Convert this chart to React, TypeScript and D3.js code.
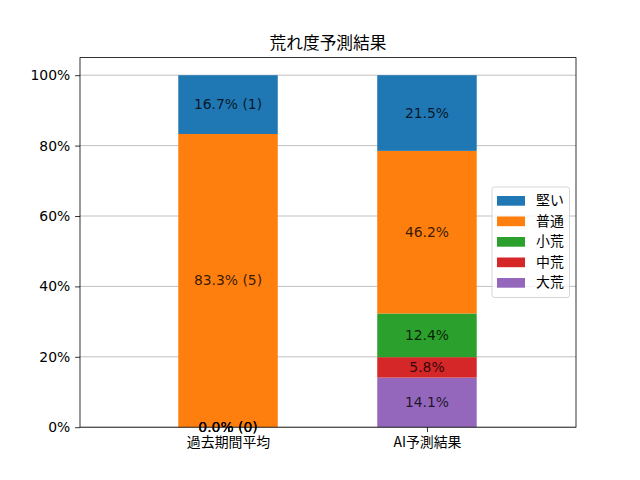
import { useEffect, useRef } from "react";
import * as d3 from "d3";

// categories on the x axis
const groups = ["過去期間平均", "AI予測結果"];
// stack order from the bottom up
const levels = ["大荒", "中荒", "小荒", "普通", "堅い"];
const colors = ["#9467bd", "#d62728", "#2ca02c", "#ff7f0e", "#1f77b4"];
// percentage per level, same order as levels
const pastPct = [0.0, 0.0, 0.0, 83.3, 16.7];
const pastCount = [0, 0, 0, 5, 1];
const aiPct = [14.1, 5.8, 12.4, 46.2, 21.5];
const yTicks = [0, 20, 40, 60, 80, 100];

const W = 640;
const H = 480;
const FONT = "'DejaVu Sans', 'Noto Sans CJK JP', sans-serif";
const JP_FONT = "'Noto Sans CJK JP', 'DejaVu Sans', sans-serif";

export default function App() {
  const svgRef = useRef<SVGSVGElement>(null);

  useEffect(() => {
    if (!svgRef.current) return;
    const svg = d3.select(svgRef.current);
    svg.selectAll("*").remove();

    const margin = { top: 57.6, right: 64, bottom: 52.8, left: 80 };
    const innerW = W - margin.left - margin.right;
    const innerH = H - margin.top - margin.bottom;

    const g = svg.append("g").attr("transform", `translate(${margin.left},${margin.top})`);

    const x = d3.scaleLinear().domain([-0.744, 1.749]).range([0, innerW]);
    const y = d3.scaleLinear().domain([0, 105]).range([innerH, 0]);
    const barW = 0.5;

    // grid below the bars
    g.append("g")
      .selectAll("line")
      .data(yTicks)
      .join("line")
      .attr("x1", 0)
      .attr("x2", innerW)
      .attr("y1", (d) => y(d))
      .attr("y2", (d) => y(d))
      .attr("stroke", "#b0b0b0")
      .attr("stroke-width", 0.8);

    const series = [
      { name: groups[0], pct: pastPct, count: pastCount as number[] | null },
      { name: groups[1], pct: aiPct, count: null },
    ];

    series.forEach((s, i) => {
      let base = 0;
      const segs = s.pct.map((v, k) => {
        const seg = { v, y0: base, y1: base + v, k };
        base += v;
        return seg;
      });
      g.append("g")
        .selectAll("rect")
        .data(segs)
        .join("rect")
        .attr("x", x(i - barW / 2))
        .attr("width", x(i + barW / 2) - x(i - barW / 2))
        .attr("y", (d) => y(d.y1))
        .attr("height", (d) => y(d.y0) - y(d.y1))
        .attr("fill", (d) => colors[d.k]);

      g.append("g")
        .selectAll("text")
        .data(segs)
        .join("text")
        .attr("x", x(i))
        .attr("y", (d) => y((d.y0 + d.y1) / 2))
        .attr("dy", "0.35em")
        .attr("text-anchor", "middle")
        .attr("font-family", FONT)
        .attr("font-size", "13.9px")
        .attr("fill", "#000")
        .attr("fill-opacity", 0.8)
        .text((d) =>
          s.count ? `${d.v.toFixed(1)}% (${s.count[d.k]})` : `${d.v.toFixed(1)}%`
        );
    });

    // spines
    g.append("rect")
      .attr("x", 0)
      .attr("y", 0)
      .attr("width", innerW)
      .attr("height", innerH)
      .attr("fill", "none")
      .attr("stroke", "#000")
      .attr("stroke-width", 0.8);

    // y axis
    const yAxis = g.append("g").call(
      d3
        .axisLeft(y)
        .tickValues(yTicks)
        .tickSize(4.9)
        .tickPadding(4.9)
        .tickFormat((d) => `${d}%`)
    );
    yAxis.select(".domain").remove();
    yAxis.selectAll(".tick line").attr("stroke", "#000").attr("stroke-width", 0.8);
    yAxis
      .selectAll("text")
      .attr("font-family", FONT)
      .attr("font-size", "13.9px")
      .attr("fill", "#000");

    // x axis
    const xAxis = g
      .append("g")
      .attr("transform", `translate(0,${innerH})`)
      .call(
        d3
          .axisBottom(x)
          .tickValues([0, 1])
          .tickSize(4.9)
          .tickPadding(4.9)
          .tickFormat((d) => groups[d as number])
      );
    xAxis.select(".domain").remove();
    xAxis.selectAll(".tick line").attr("stroke", "#000").attr("stroke-width", 0.8);
    xAxis
      .selectAll("text")
      .attr("font-family", JP_FONT)
      .attr("font-size", "13.9px")
      .attr("fill", "#000");

    // title
    g.append("text")
      .attr("x", innerW / 2)
      .attr("y", -8.5)
      .attr("text-anchor", "middle")
      .attr("font-family", JP_FONT)
      .attr("font-size", "16.7px")
      .attr("fill", "#000")
      .text("荒れ度予測結果");

    // legend, top entry is the top of the stack
    const legendItems = levels.map((name, k) => ({ name, color: colors[k] })).reverse();
    const lg = g.append("g").attr("transform", `translate(${492 - margin.left},${187 - margin.top})`);
    lg.append("rect")
      .attr("x", 0)
      .attr("y", 0)
      .attr("width", 77.5)
      .attr("height", 110.5)
      .attr("rx", 2.5)
      .attr("fill", "#fff")
      .attr("fill-opacity", 0.8)
      .attr("stroke", "#cccccc")
      .attr("stroke-width", 0.8);
    const rows = lg
      .selectAll("g.row")
      .data(legendItems)
      .join("g")
      .attr("class", "row")
      .attr("transform", (_d, k) => `translate(0,${13.5 + k * 20.5})`);
    rows
      .append("rect")
      .attr("x", 5)
      .attr("y", -4.5)
      .attr("width", 28)
      .attr("height", 9.7)
      .attr("fill", (d) => d.color);
    rows
      .append("text")
      .attr("x", 44)
      .attr("y", 0)
      .attr("dy", "0.35em")
      .attr("font-family", JP_FONT)
      .attr("font-size", "13.9px")
      .attr("fill", "#000")
      .text((d) => d.name);
  }, []);

  return (
    <svg
      ref={svgRef}
      width={W}
      height={H}
      viewBox={`0 0 ${W} ${H}`}
      style={{ position: "fixed", left: 0, top: 0, background: "#fff" }}
    />
  );
}
